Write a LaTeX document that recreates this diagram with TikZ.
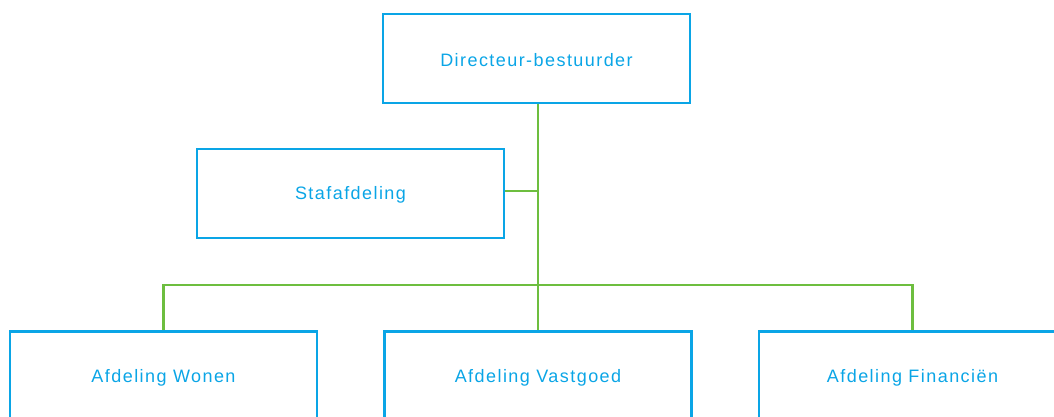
\documentclass[tikz,border=0pt]{standalone}
\usepackage{fontspec}
\setmainfont{Liberation Sans}[LetterSpace=8]
\definecolor{boxblue}{HTML}{0AA5E6}
\definecolor{linegreen}{HTML}{6DBE3F}
\begin{document}
\begin{tikzpicture}[x=1pt,y=-1pt,
  orgbox/.style={draw=boxblue, line width=2.2pt, minimum width=307pt, minimum height=89pt,
    inner sep=0pt, text=boxblue, font=\fontsize{18}{22}\selectfont},
  lbl/.style={text=boxblue, font=\fontsize{18}{22}\selectfont, inner sep=0pt},
  link/.style={draw=linegreen, line width=2.2pt}]
\useasboundingbox (0,0) rectangle (1054,416);
\clip (0,0) rectangle (1054,416);
\node[orgbox] (dir) at (536.5,58.5) {};
\node[orgbox] (staf) at (350.5,193.5) {};
\node[orgbox] (won) at (163.5,376) {};
\node[orgbox] (vast) at (538,376) {};
\node[orgbox] (fin) at (912.5,376) {};
\node[lbl] (tdir) at ([yshift=-2pt]dir.center) {Directeur-bestuurder};
\node[lbl] (tstaf) at ([yshift=-1pt]staf.center) {Stafafdeling};
\node[lbl] (twon) at ([yshift=-1.5pt]won.center) {Afdeling Wonen};
\node[lbl] (tvast) at ([yshift=-1.5pt]vast.center) {Afdeling Vastgoed};
\node[lbl] (tfin) at ([yshift=-1.5pt]fin.center) {Afdeling Financiën};
\coordinate (bus) at (538,285);
\coordinate (stafj) at (538,191);
\draw[link] (dir.south -| vast.north) -- (vast.north);
\draw[link] (staf.east |- stafj) -- (stafj);
\draw[link] (won.north) |- (bus) -| (fin.north);
\end{tikzpicture}
\end{document}
